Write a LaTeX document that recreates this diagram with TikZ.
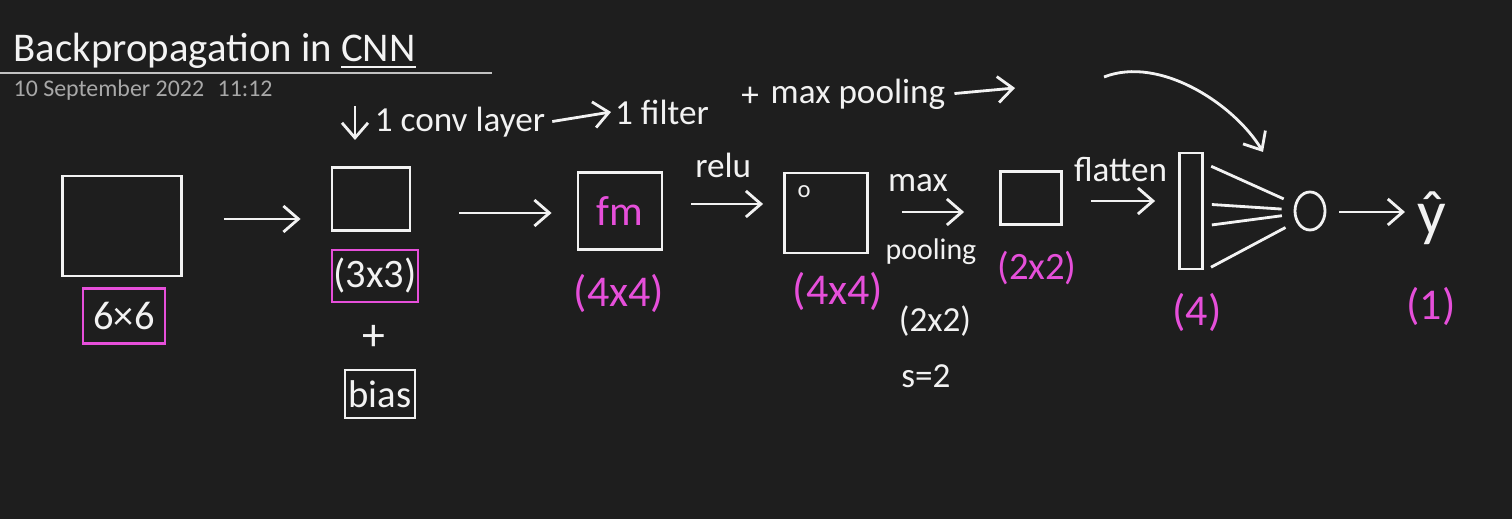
\documentclass[tikz,border=0pt]{standalone}
\usepackage{fontspec}
\setmainfont{Carlito}
\usetikzlibrary{arrows.meta,positioning,shapes.geometric}
\definecolor{bpblack}{HTML}{1E1E1E}
\definecolor{bpchalk}{HTML}{F2F2F2}
\definecolor{bppink}{HTML}{E64FDA}
\definecolor{bpgray}{HTML}{A8A8A8}
\tikzset{
  title/.style={text=bpchalk!92, font=\fontsize{11.6}{14}\selectfont, inner sep=0pt},
  stamp/.style={text=bpgray, font=\fontsize{6.8}{8}\selectfont, inner sep=0pt},
  layer/.style={draw=bpchalk, line width=0.8pt, inner sep=0pt},
  dimbox/.style={draw=bppink, line width=0.8pt, text=bpchalk, font=\fontsize{11.5}{14}\selectfont, inner sep=0pt},
  dimlabel/.style={text=bppink, font=\fontsize{12.5}{15}\selectfont, inner sep=1pt},
  note/.style={text=bpchalk, font=\fontsize{10}{12}\selectfont, inner sep=1pt},
  wire/.style={draw=bpchalk, line width=0.8pt},
  arrow/.style={-{Straight Barb[length=1.5mm,width=2.6mm]}, line width=0.8pt, draw=bpchalk}
}
\begin{document}
\begin{tikzpicture}[x=0.01cm, y=-0.01cm]
\fill[bpblack] (0,0) rectangle (1512,519);
\useasboundingbox (0,0) rectangle (1512,519);

% page header
\node[title, anchor=base west] (title) at (13,62) {Backpropagation in \underline{CNN}};
\draw[bpgray!70, line width=0.4pt] (0,73) -- (492,73);
\node[stamp, anchor=base west] (date) at (13,97) {10 September 2022};
\node[stamp, anchor=base west] (time) at (217,97) {11:12};

% note over the network
\coordinate (convfrom) at (355,106);
\coordinate (convto) at (355,140);
\draw[arrow] (convfrom) -- (convto);
\node[note] (convnote) at (460,122) {1 conv layer};
\node[note] (filternote) at (662,112) {1 filter};
\node[note] (plusnote) at (750,97) {+};
\node[note] (poolnote) at (858,94) {max pooling};
\coordinate (poolto) at (1015,88);
\draw[arrow, shorten <=0.03cm] (convnote.east) -- (filternote.west);
\draw[arrow, shorten <=0.05cm] (poolnote.east) -- (poolto);

% layers
\node[layer, minimum width=1.19cm, minimum height=1.0cm] (input) at (122,226) {};
\node[dimbox, minimum width=0.82cm, minimum height=0.55cm] (inputdim) at (124,316) {6×6};
\node[layer, minimum width=0.78cm, minimum height=0.63cm] (filter) at (371,199) {};
\node[dimbox, minimum width=0.86cm, minimum height=0.52cm] (filterdim) at (375,276) {(3x3)};
\node[note, font=\fontsize{13}{15}\selectfont] (plus) at (374,338) {+};
\node[layer, minimum width=0.7cm, minimum height=0.48cm, text=bpchalk, font=\fontsize{11}{13}\selectfont] (bias) at (380,394) {bias};
\node[layer, minimum width=0.84cm, minimum height=0.77cm, text=bppink, font=\fontsize{12}{14}\selectfont] (fmap) at (620,211) {fm};
\node[dimlabel] (fmapdim) at (619,293) {(4x4)};
\node[layer, minimum width=0.83cm, minimum height=0.8cm] (relu) at (826,213) {};
\node[note, font=\fontsize{7}{8}\selectfont] (zero) at (804,192) {o};
\node[dimlabel] (reludim) at (838,291) {(4x4)};
\node[layer, minimum width=0.61cm, minimum height=0.53cm] (pool) at (1031,198) {};
\node[dimlabel, font=\fontsize{11}{13}\selectfont] (pooldim) at (1037,268) {(2x2)};
\node[layer, minimum width=0.23cm, minimum height=1.16cm] (flat) at (1191,211) {};
\node[dimlabel] (flatdim) at (1197,312) {(4)};
\node[ellipse, draw=bpchalk, line width=0.8pt, inner sep=0pt, minimum width=0.3cm, minimum height=0.38cm] (neuron) at (1310,211) {};
\node[text=bpchalk, font=\fontsize{18}{20}\selectfont, inner sep=0pt] (yhat) at (1432,218) {ŷ};
\node[dimlabel] (yhatdim) at (1431,306) {(1)};

% pooling notes
\node[note] (maxnote) at (918,183) {max};
\node[note, font=\fontsize{8.5}{10}\selectfont] (poolingnote) at (931,252) {pooling};
\node[note] (sizenote) at (935,321) {(2x2)};
\node[note] (stridenote) at (926,376) {s=2};

% connectors
\draw[arrow, shorten <=0.41cm, shorten >=0.3cm] (input.east |- 0,219) -- (filter.west |- 0,219);
\draw[arrow, shorten <=0.48cm, shorten >=0.25cm] (filter.east |- 0,213) -- (fmap.west |- 0,213);
\draw[arrow, shorten <=0.28cm, shorten >=0.2cm] (fmap.east |- 0,204) -- node[note, above=6pt] (relunote) {relu} (relu.west |- 0,204);
\draw[arrow, shorten <=0.33cm, shorten >=0.35cm] (relu.east |- 0,212) -- (pool.west |- 0,212);
\draw[arrow, shorten <=0.28cm, shorten >=0.23cm] (pool.east |- 0,201) -- node[note, above=4pt] (flatnote) {flatten} (flat.west |- 0,201);
\foreach \ya/\ang in {163/155, 204/176, 226/191, 271/218}
  \draw[wire, shorten <=0.08cm, shorten >=0.12cm] (flat.east |- 0,\ya) -- (neuron.\ang);
\draw[arrow, shorten <=0.13cm, shorten >=0.12cm] (neuron.east |- 0,212) -- (yhat.west |- 0,212);

% back to the output
\coordinate (bendfrom) at (1104,77);
\coordinate (bendto) at (1263,152);
\draw[arrow] (bendfrom) .. controls (1160,55) and (1235,105) .. (bendto);
\end{tikzpicture}
\end{document}
